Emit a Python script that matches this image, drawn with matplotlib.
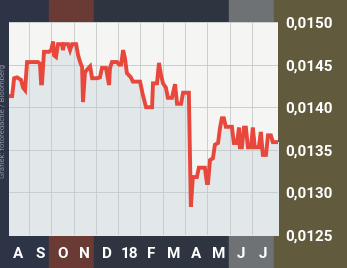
import matplotlib.pyplot as plt
from matplotlib.patches import Rectangle

# font: narrow bold like the magazine chart
plt.rcParams['font.family'] = ['Roboto', 'DejaVu Sans']

# data (x in months since start of August 2017)
month_pos = [0.10, 0.24, 0.33, 0.46, 0.64, 0.73, 0.82, 0.91, 1.04, 1.22, 1.40, 1.49,
             1.54, 1.58, 1.67, 1.76, 1.90, 1.99, 2.08, 2.12, 2.21, 2.30, 2.48, 2.52,
             2.57, 2.75, 2.84, 2.93, 3.11, 3.20, 3.29, 3.38, 3.42, 3.51, 3.60, 3.74,
             3.83, 4.05, 4.18, 4.27, 4.36, 4.45, 4.59, 4.63, 4.72, 4.95, 5.04, 5.13,
             5.22, 5.30, 5.39, 5.57, 5.66, 5.98, 6.11, 6.25, 6.52, 6.56, 6.74, 6.83,
             6.92, 7.01, 7.14, 7.23, 7.41, 7.55, 7.64, 7.82, 7.91, 8.13, 8.17, 8.26,
             8.35, 8.53, 8.62, 8.89, 8.98, 9.03, 9.12, 9.25, 9.34, 9.48, 9.57, 9.65,
             9.74, 9.83, 10.10, 10.19, 10.33, 10.42, 10.46, 10.55, 10.64, 10.73, 10.82,
             10.96, 11.04, 11.13, 11.31, 11.40, 11.49, 11.63, 11.72, 11.85, 11.94, 12.17]
rate = [0.01413, 0.01413, 0.01434, 0.01435, 0.01432, 0.01423, 0.01420, 0.01453, 0.01453,
        0.01453, 0.01453, 0.01451, 0.01428, 0.01428, 0.01465, 0.01465, 0.01465, 0.01467,
        0.01477, 0.01461, 0.01459, 0.01474, 0.01474, 0.01467, 0.01474, 0.01474, 0.01467,
        0.01474, 0.01474, 0.01461, 0.01453, 0.01447, 0.01406, 0.01441, 0.01444, 0.01448,
        0.01434, 0.01434, 0.01435, 0.01446, 0.01446, 0.01446, 0.01426, 0.01446, 0.01453,
        0.01453, 0.01450, 0.01450, 0.01467, 0.01458, 0.01440, 0.01435, 0.01430, 0.01430,
        0.01414, 0.01400, 0.01400, 0.01428, 0.01428, 0.01452, 0.01438, 0.01428, 0.01423,
        0.01411, 0.01411, 0.01427, 0.01404, 0.01404, 0.01417, 0.01417, 0.01417, 0.01283,
        0.01318, 0.01318, 0.01329, 0.01329, 0.01311, 0.01311, 0.01338, 0.01340, 0.01356,
        0.01358, 0.01376, 0.01387, 0.01387, 0.01377, 0.01377, 0.01358, 0.01358, 0.01376,
        0.01353, 0.01353, 0.01376, 0.01376, 0.01353, 0.01353, 0.01376, 0.01353, 0.01353,
        0.01371, 0.01344, 0.01344, 0.01367, 0.01367, 0.01359, 0.01359]

month_labels = ['A', 'S', 'O', 'N', 'D', '18', 'F', 'M', 'A', 'M', 'J', 'J']
y_ticks = [0.0125, 0.0130, 0.0135, 0.0140, 0.0145, 0.0150]
y_labels = ['0,0125', '0,0130', '0,0135', '0,0140', '0,0145', '0,0150']

fig = plt.figure(figsize=(3.47, 2.68), dpi=100)
fig.patch.set_facecolor('#5d573d')

# dark photo background behind the chart
bands = [(0.00, 0.14, '#2d3446'), (0.14, 0.27, '#6a3a34'), (0.27, 0.66, '#2f3441'),
         (0.66, 0.79, '#6f7274'), (0.79, 1.00, '#615a3c')]
for x0, x1, c in bands:
    fig.patches.append(Rectangle((x0, 0), x1 - x0, 1, transform=fig.transFigure,
                                 color=c, zorder=-10))

ax = fig.add_axes([9 / 347, 1 - 235 / 268, 269 / 347, 213 / 268])
ax.set_zorder(1)
ax.set_facecolor('#f5f6f4')

# light shading below the line
ax.fill_between(month_pos, rate, 0.0120, color='#e2e8e9', zorder=1)
ax.plot(month_pos, rate, color='#e8473c', linewidth=2.8, solid_joinstyle='miter', zorder=3)

ax.set_xlim(0.10, 12.17)
ax.set_ylim(0.0125, 0.0150)

# grid
ax.set_xticks(range(1, 12))
ax.set_xticks([i + 0.5 for i in range(12)], minor=True)
ax.set_yticks(y_ticks)
ax.grid(True, which='major', color='#c4c8c8', linewidth=0.6)
ax.tick_params(axis='x', which='major', length=0, labelbottom=False)
ax.tick_params(axis='x', which='minor', length=0, pad=9, labelsize=11, labelcolor='white')
ax.set_xticklabels(month_labels, minor=True, fontweight='bold')

ax.yaxis.tick_right()
ax.tick_params(axis='y', length=0, pad=5, labelsize=11, labelcolor='white')
ax.set_yticklabels(y_labels, fontweight='bold')

for s in ax.spines.values():
    s.set_visible(False)

# source credit on the left edge
fig.text(0.008, 0.55, 'Grafiek: fotoredactie / Bloomberg', rotation=90,
         color='#8b91a0', fontsize=5.5, ha='center', va='center', zorder=2)

plt.savefig('out.png', dpi=100, facecolor=fig.get_facecolor())
